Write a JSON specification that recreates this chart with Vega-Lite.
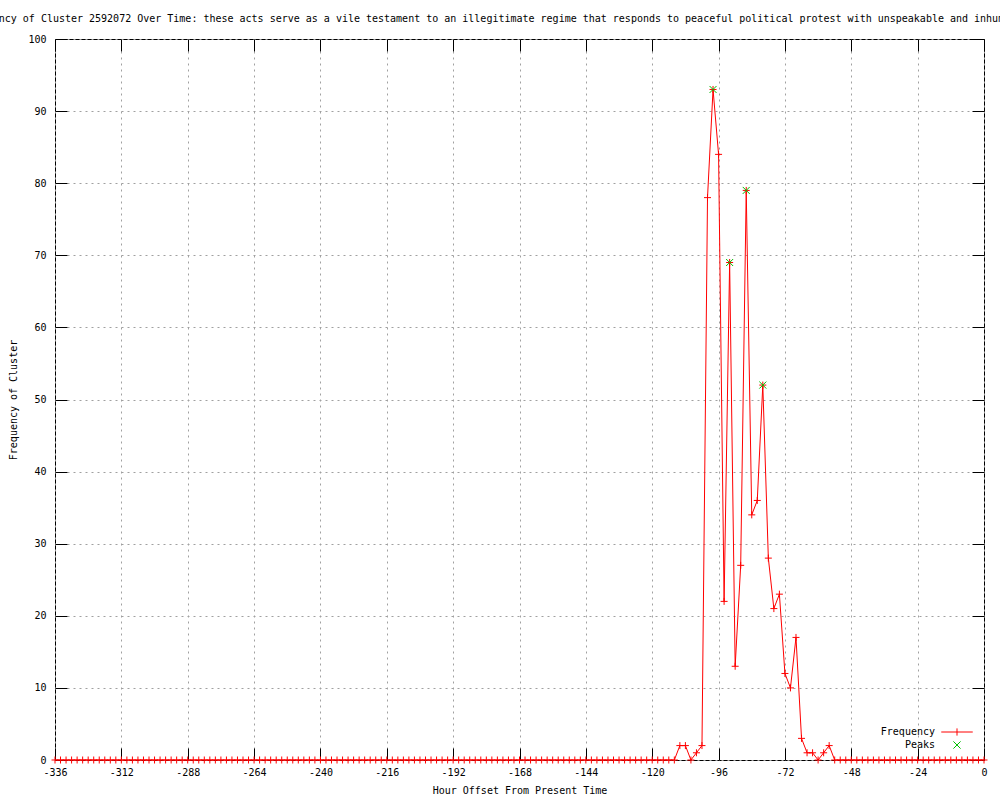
{
  "$schema": "https://vega.github.io/schema/vega-lite/v6.json",
  "width": 929,
  "height": 721,
  "autosize": "none",
  "padding": {"left": 55, "top": 39, "right": 16, "bottom": 40},
  "background": "white",
  "title": {
    "text": "Frequency of Cluster 2592072 Over Time: these acts serve as a vile testament to an illegitimate regime that responds to peaceful political protest with unspeakable and inhumane violence",
    "anchor": "middle",
    "font": "DejaVu Sans Mono",
    "fontSize": 10,
    "fontWeight": "normal",
    "color": "black",
    "offset": 10
  },
  "datasets": {
    "freq": [
      {"hour": -336, "freq": 0}, {"hour": -334, "freq": 0}, {"hour": -332, "freq": 0}, {"hour": -330, "freq": 0},
      {"hour": -328, "freq": 0}, {"hour": -326, "freq": 0}, {"hour": -324, "freq": 0}, {"hour": -322, "freq": 0},
      {"hour": -320, "freq": 0}, {"hour": -318, "freq": 0}, {"hour": -316, "freq": 0}, {"hour": -314, "freq": 0},
      {"hour": -312, "freq": 0}, {"hour": -310, "freq": 0}, {"hour": -308, "freq": 0}, {"hour": -306, "freq": 0},
      {"hour": -304, "freq": 0}, {"hour": -302, "freq": 0}, {"hour": -300, "freq": 0}, {"hour": -298, "freq": 0},
      {"hour": -296, "freq": 0}, {"hour": -294, "freq": 0}, {"hour": -292, "freq": 0}, {"hour": -290, "freq": 0},
      {"hour": -288, "freq": 0}, {"hour": -286, "freq": 0}, {"hour": -284, "freq": 0}, {"hour": -282, "freq": 0},
      {"hour": -280, "freq": 0}, {"hour": -278, "freq": 0}, {"hour": -276, "freq": 0}, {"hour": -274, "freq": 0},
      {"hour": -272, "freq": 0}, {"hour": -270, "freq": 0}, {"hour": -268, "freq": 0}, {"hour": -266, "freq": 0},
      {"hour": -264, "freq": 0}, {"hour": -262, "freq": 0}, {"hour": -260, "freq": 0}, {"hour": -258, "freq": 0},
      {"hour": -256, "freq": 0}, {"hour": -254, "freq": 0}, {"hour": -252, "freq": 0}, {"hour": -250, "freq": 0},
      {"hour": -248, "freq": 0}, {"hour": -246, "freq": 0}, {"hour": -244, "freq": 0}, {"hour": -242, "freq": 0},
      {"hour": -240, "freq": 0}, {"hour": -238, "freq": 0}, {"hour": -236, "freq": 0}, {"hour": -234, "freq": 0},
      {"hour": -232, "freq": 0}, {"hour": -230, "freq": 0}, {"hour": -228, "freq": 0}, {"hour": -226, "freq": 0},
      {"hour": -224, "freq": 0}, {"hour": -222, "freq": 0}, {"hour": -220, "freq": 0}, {"hour": -218, "freq": 0},
      {"hour": -216, "freq": 0}, {"hour": -214, "freq": 0}, {"hour": -212, "freq": 0}, {"hour": -210, "freq": 0},
      {"hour": -208, "freq": 0}, {"hour": -206, "freq": 0}, {"hour": -204, "freq": 0}, {"hour": -202, "freq": 0},
      {"hour": -200, "freq": 0}, {"hour": -198, "freq": 0}, {"hour": -196, "freq": 0}, {"hour": -194, "freq": 0},
      {"hour": -192, "freq": 0}, {"hour": -190, "freq": 0}, {"hour": -188, "freq": 0}, {"hour": -186, "freq": 0},
      {"hour": -184, "freq": 0}, {"hour": -182, "freq": 0}, {"hour": -180, "freq": 0}, {"hour": -178, "freq": 0},
      {"hour": -176, "freq": 0}, {"hour": -174, "freq": 0}, {"hour": -172, "freq": 0}, {"hour": -170, "freq": 0},
      {"hour": -168, "freq": 0}, {"hour": -166, "freq": 0}, {"hour": -164, "freq": 0}, {"hour": -162, "freq": 0},
      {"hour": -160, "freq": 0}, {"hour": -158, "freq": 0}, {"hour": -156, "freq": 0}, {"hour": -154, "freq": 0},
      {"hour": -152, "freq": 0}, {"hour": -150, "freq": 0}, {"hour": -148, "freq": 0}, {"hour": -146, "freq": 0},
      {"hour": -144, "freq": 0}, {"hour": -142, "freq": 0}, {"hour": -140, "freq": 0}, {"hour": -138, "freq": 0},
      {"hour": -136, "freq": 0}, {"hour": -134, "freq": 0}, {"hour": -132, "freq": 0}, {"hour": -130, "freq": 0},
      {"hour": -128, "freq": 0}, {"hour": -126, "freq": 0}, {"hour": -124, "freq": 0}, {"hour": -122, "freq": 0},
      {"hour": -120, "freq": 0}, {"hour": -118, "freq": 0}, {"hour": -116, "freq": 0}, {"hour": -114, "freq": 0},
      {"hour": -112, "freq": 0}, {"hour": -110, "freq": 2}, {"hour": -108, "freq": 2}, {"hour": -106, "freq": 0},
      {"hour": -104, "freq": 1}, {"hour": -102, "freq": 2}, {"hour": -100, "freq": 78}, {"hour": -98, "freq": 93},
      {"hour": -96, "freq": 84}, {"hour": -94, "freq": 22}, {"hour": -92, "freq": 69}, {"hour": -90, "freq": 13},
      {"hour": -88, "freq": 27}, {"hour": -86, "freq": 79}, {"hour": -84, "freq": 34}, {"hour": -82, "freq": 36},
      {"hour": -80, "freq": 52}, {"hour": -78, "freq": 28}, {"hour": -76, "freq": 21}, {"hour": -74, "freq": 23},
      {"hour": -72, "freq": 12}, {"hour": -70, "freq": 10}, {"hour": -68, "freq": 17}, {"hour": -66, "freq": 3},
      {"hour": -64, "freq": 1}, {"hour": -62, "freq": 1}, {"hour": -60, "freq": 0}, {"hour": -58, "freq": 1},
      {"hour": -56, "freq": 2}, {"hour": -54, "freq": 0}, {"hour": -52, "freq": 0}, {"hour": -50, "freq": 0},
      {"hour": -48, "freq": 0}, {"hour": -46, "freq": 0}, {"hour": -44, "freq": 0}, {"hour": -42, "freq": 0},
      {"hour": -40, "freq": 0}, {"hour": -38, "freq": 0}, {"hour": -36, "freq": 0}, {"hour": -34, "freq": 0},
      {"hour": -32, "freq": 0}, {"hour": -30, "freq": 0}, {"hour": -28, "freq": 0}, {"hour": -26, "freq": 0},
      {"hour": -24, "freq": 0}, {"hour": -22, "freq": 0}, {"hour": -20, "freq": 0}, {"hour": -18, "freq": 0},
      {"hour": -16, "freq": 0}, {"hour": -14, "freq": 0}, {"hour": -12, "freq": 0}, {"hour": -10, "freq": 0},
      {"hour": -8, "freq": 0}, {"hour": -6, "freq": 0}, {"hour": -4, "freq": 0}, {"hour": -2, "freq": 0},
      {"hour": 0, "freq": 0}
    ],
    "peaks": [
      {"hour": -98, "freq": 93},
      {"hour": -92, "freq": 69},
      {"hour": -86, "freq": 79},
      {"hour": -80, "freq": 52}
    ]
  },
  "config": {
    "view": {"stroke": "black", "strokeWidth": 1},
    "axis": {
      "labelFont": "DejaVu Sans Mono",
      "labelFontSize": 10,
      "labelColor": "black",
      "titleFont": "DejaVu Sans Mono",
      "titleFontSize": 10,
      "titleFontWeight": "normal",
      "titleColor": "black",
      "tickColor": "black",
      "tickWidth": 1,
      "domain": false,
      "gridColor": "#a0a0a0",
      "gridDash": [2, 4],
      "gridWidth": 1,
      "gridOpacity": 1
    }
  },
  "resolve": {"axis": {"x": "independent", "y": "independent"}},
  "layer": [
    {
      "data": {"name": "freq"},
      "mark": {"type": "line", "strokeWidth": 1},
      "encoding": {
        "x": {
          "field": "hour", "type": "quantitative",
          "scale": {"domain": [-336, 0], "nice": false, "zero": false},
          "axis": {
            "orient": "bottom",
            "values": [-336, -312, -288, -264, -240, -216, -192, -168, -144, -120, -96, -72, -48, -24, 0],
            "labelExpr": "'' + datum.value",
            "grid": true,
            "tickSize": -12,
            "labelPadding": 19,
            "labelFlush": false,
            "labelOverlap": false,
            "title": "Hour Offset From Present Time",
            "titlePadding": 8
          }
        },
        "y": {
          "field": "freq", "type": "quantitative",
          "scale": {"domain": [0, 100], "nice": false, "zero": true},
          "axis": {
            "orient": "left",
            "values": [0, 10, 20, 30, 40, 50, 60, 70, 80, 90, 100],
            "grid": true,
            "tickSize": -12,
            "labelPadding": 21,
            "labelFlush": false,
            "labelOverlap": false,
            "title": "Frequency of Cluster",
            "titlePadding": 9
          }
        },
        "color": {
          "datum": "Frequency",
          "scale": {"domain": ["Frequency", "Peaks"], "range": ["#ff0000", "#00c000"]},
          "legend": {
            "orient": "bottom-right",
            "title": null,
            "offset": 9,
            "padding": 0,
            "labelFont": "DejaVu Sans Mono",
            "labelFontSize": 10,
            "labelColor": "black",
            "labelLimit": 0,
            "symbolSize": 81,
            "rowPadding": 1,
            "encode": {
              "symbols": {
                "update": {
                  "shape": {"signal": "datum.value === 'Frequency' ? 'M-3.5,0L3.5,0M0,-0.8L0,0.8' : 'M-0.8,-0.8L0.8,0.8M-0.8,0.8L0.8,-0.8'"},
                  "x": {"value": 16},
                  "fill": {"value": "transparent"},
                  "strokeWidth": {"value": 1},
                  "opacity": {"value": 1}
                }
              },
              "labels": {
                "update": {
                  "align": {"value": "right"},
                  "x": {"value": -6}
                }
              }
            }
          }
        }
      }
    },
    {
      "data": {"name": "freq"},
      "mark": {"type": "point", "shape": "M-1,0L1,0M0,-1L0,1", "size": 49, "strokeWidth": 1, "filled": false, "opacity": 1},
      "encoding": {
        "x": {
          "field": "hour", "type": "quantitative",
          "axis": {
            "orient": "top",
            "values": [-336, -312, -288, -264, -240, -216, -192, -168, -144, -120, -96, -72, -48, -24, 0],
            "labels": false, "grid": false, "tickSize": -12, "title": null
          }
        },
        "y": {
          "field": "freq", "type": "quantitative",
          "axis": {
            "orient": "right",
            "values": [0, 10, 20, 30, 40, 50, 60, 70, 80, 90, 100],
            "labels": false, "grid": false, "tickSize": -12, "title": null
          }
        },
        "color": {"datum": "Frequency"}
      }
    },
    {
      "data": {"name": "peaks"},
      "mark": {"type": "point", "shape": "M-1,-1L1,1M-1,1L1,-1", "size": 49, "strokeWidth": 1, "filled": false, "opacity": 1},
      "encoding": {
        "x": {"field": "hour", "type": "quantitative", "axis": null},
        "y": {"field": "freq", "type": "quantitative", "axis": null},
        "color": {"datum": "Peaks"}
      }
    }
  ]
}
